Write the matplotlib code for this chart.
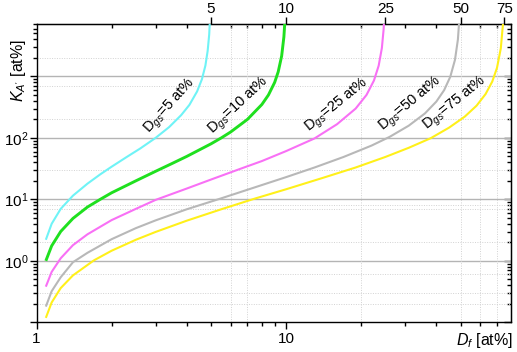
import matplotlib
matplotlib.use("Agg")
import matplotlib.pyplot as plt
from matplotlib.ticker import FixedLocator, NullFormatter, FuncFormatter

plt.rcParams["font.family"] = ["Liberation Sans", "DejaVu Sans"]
plt.rcParams["mathtext.fontset"] = "custom"
plt.rcParams["mathtext.rm"] = "Liberation Sans"
plt.rcParams["mathtext.it"] = "Liberation Sans:italic"
plt.rcParams["mathtext.default"] = "regular"

# D_gs series: D_f [at%] vs K_A' [at%]
dgs_values = [5, 10, 25, 50, 75]

df_5 = [1.09, 1.15, 1.25, 1.4, 1.6, 1.8, 2.0, 2.3, 2.6, 3.0, 3.4, 3.8, 4.1, 4.4, 4.6, 4.75, 4.85, 4.92, 4.95]
ka_5 = [2.2, 4.0, 7.0, 11.5, 18, 25.5, 34, 49, 67, 100, 150, 235, 345, 570, 900, 1500, 2600, 4800, 7900]

df_10 = [1.09, 1.15, 1.25, 1.4, 1.6, 1.8, 2.0, 2.5, 3.0, 3.5, 4.0, 5.0, 5.5, 6.0, 7.0, 8.0, 8.5, 9.0, 9.3, 9.6, 9.8, 9.88]
ka_10 = [1.0, 1.75, 3.0, 4.9, 7.5, 10, 12.8, 20, 28.6, 38.5, 50, 80, 100, 125, 200, 350, 500, 800, 1190, 2150, 4400, 7400]

df_25 = [1.09, 1.15, 1.25, 1.4, 1.6, 2.0, 2.5, 3.0, 4.0, 5.0, 6.5, 8.0, 10, 13, 16, 19, 21, 22.5, 23.5, 24.2, 24.6, 24.75]
ka_25 = [0.38, 0.66, 1.1, 1.8, 2.7, 4.6, 7.0, 9.8, 15, 21, 31, 42, 61, 98, 167, 300, 500, 860, 1500, 2900, 5900, 9500]

df_50 = [1.09, 1.15, 1.25, 1.4, 1.6, 2.0, 2.5, 3.0, 4.0, 5.5, 7.5, 10, 13, 17, 22, 26, 31, 36, 40, 43, 45.5, 47.5, 48.8, 49.4]
ka_50 = [0.18, 0.32, 0.54, 0.95, 1.35, 2.25, 3.4, 4.55, 6.9, 10.4, 15.7, 23, 33, 49, 75, 104, 158, 250, 390, 600, 990, 1860, 3980, 8070]

df_75 = [1.09, 1.15, 1.25, 1.4, 1.7, 2.0, 2.5, 3.0, 4.0, 5.5, 7.5, 10, 14, 19, 25, 31, 38, 45, 52, 58, 63, 67, 70, 72.5, 74, 74.4]
ka_75 = [0.118, 0.21, 0.36, 0.58, 1.02, 1.46, 2.2, 2.95, 4.5, 6.9, 10.3, 14.6, 22.3, 33, 49, 69, 99, 147, 222, 335, 517, 825, 1380, 2860, 7300, 12200]

series = [df_5, df_10, df_25, df_50, df_75]
values = [ka_5, ka_10, ka_25, ka_50, ka_75]

COLORS = ["#6ff3f6", "#1fe01f", "#f870f5", "#b8b8b8", "#fff01a"]
WIDTHS = [1.5, 2.1, 1.5, 1.5, 1.5]

# label anchor (D_f, K) and rotation for each curve label
LABEL_POS = [(2.82, 116), (5.08, 116), (12.4, 123), (24.5, 128), (36.6, 135)]
LABEL_ROT = [48, 43, 39, 40, 39]

fig = plt.figure(figsize=(5.17, 3.52), dpi=100)
ax = fig.add_axes([0.0706, 0.0844, 0.9187, 0.8460])

for x, y, c, lw in zip(series, values, COLORS, WIDTHS):
    ax.plot(x, y, color=c, linewidth=lw, solid_capstyle="butt", zorder=3)

for dgs, (lx, ly), rot in zip(dgs_values, LABEL_POS, LABEL_ROT):
    ax.text(lx, ly, r"D$_{\mathit{gs}}$=" + f"{dgs} at%", rotation=rot,
            rotation_mode="anchor", ha="left", va="baseline", fontsize=10.5, zorder=4)

ax.set_xscale("log")
ax.set_yscale("log")
ax.set_xlim(1, 80)
ax.set_ylim(0.1, 7000)

# grid: solid majors on y, sparse dotted minors as in the original
ax.grid(False)
for yv in [1, 10, 100, 1000]:
    ax.axhline(yv, color="#b4b4b4", linewidth=1.0, zorder=1)
for yv in [0.2, 0.3, 0.6, 2, 7, 8, 30, 200, 700, 2000]:
    ax.axhline(yv, color="#d2d2d2", linewidth=0.7, linestyle=(0, (1, 1.5)), zorder=1)
for xv in [6, 7, 20, 50, 60, 70]:
    ax.axvline(xv, color="#d2d2d2", linewidth=0.7, linestyle=(0, (1, 1.5)), zorder=1)

ax.xaxis.set_major_locator(FixedLocator([1, 10]))
ax.xaxis.set_minor_locator(FixedLocator([2, 3, 4, 5, 6, 7, 8, 9, 20, 30, 40, 50, 60, 70]))
ax.xaxis.set_major_formatter(FuncFormatter(lambda v, p: f"{v:g}"))
ax.xaxis.set_minor_formatter(NullFormatter())

ax.yaxis.set_major_locator(FixedLocator([0.1, 1, 10, 100, 1000]))
ymin = [m * 10.0 ** e for e in range(-1, 4) for m in range(2, 10)]
ax.yaxis.set_minor_locator(FixedLocator(ymin))
ylabels = {1: "$10^{0}$", 10: "$10^{1}$", 100: "$10^{2}$"}
ax.yaxis.set_major_formatter(FuncFormatter(lambda v, p: ylabels.get(int(round(v)) if v >= 1 else -1, "")))
ax.yaxis.set_minor_formatter(NullFormatter())

ax.tick_params(which="both", direction="out", labelsize=11, width=1.0)
ax.tick_params(which="major", length=5, pad=2)
ax.tick_params(which="minor", length=3)
ax.tick_params(axis="y", pad=1)
for s in ax.spines.values():
    s.set_linewidth(1.0)

# top axis: labelled D_gs ticks outward, mirrored minor ticks inward
top = ax.secondary_xaxis("top")
top.xaxis.set_major_locator(FixedLocator(dgs_values))
top.xaxis.set_major_formatter(FuncFormatter(lambda v, p: f"{v:g}"))
top.xaxis.set_minor_locator(FixedLocator([2, 3, 4, 6, 7, 8, 9, 20, 30, 40, 60, 70]))
top.xaxis.set_minor_formatter(NullFormatter())
top.tick_params(which="major", direction="out", length=5, width=1.0, labelsize=11, pad=1)
top.tick_params(which="minor", direction="in", length=3, width=1.0)

right = ax.secondary_yaxis("right")
right.yaxis.set_major_locator(FixedLocator([0.1, 1, 10, 100, 1000]))
right.yaxis.set_minor_locator(FixedLocator(ymin))
right.yaxis.set_major_formatter(NullFormatter())
right.yaxis.set_minor_formatter(NullFormatter())
right.tick_params(which="major", direction="in", length=5, width=1.0)
right.tick_params(which="minor", direction="in", length=3, width=1.0)

ax.set_ylabel(r"$\mathit{K_{A'}}$ [at%]", fontsize=11.5)
ax.yaxis.set_label_coords(-0.018, 0.845)
ax.text(1.004, -0.062, r"$\mathit{D_f}$ [at%]", transform=ax.transAxes,
        ha="right", va="center", fontsize=11.5)

fig.savefig("out.png", dpi=100)
